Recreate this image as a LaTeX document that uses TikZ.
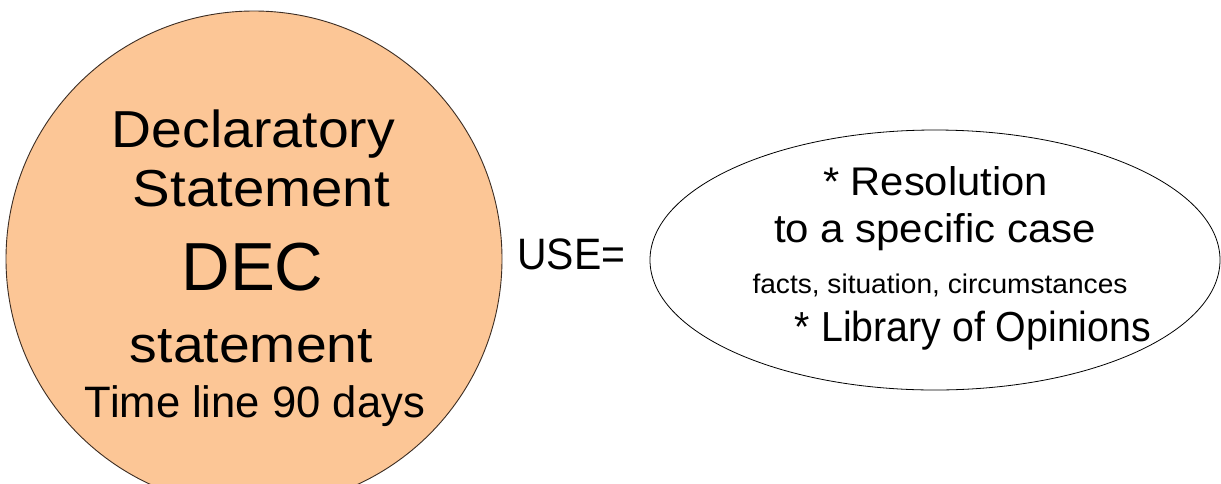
\documentclass[tikz,border=0pt]{standalone}
\usepackage{fontspec}
\setmainfont{Liberation Sans}
\usetikzlibrary{shapes.geometric}
\definecolor{peach}{RGB}{252,198,150}
\definecolor{rim}{RGB}{60,45,35}
\newcommand{\fitw}[3]{\resizebox{#1pt}{\height}{\fontsize{#2pt}{#2pt}\selectfont #3}}
\tikzset{
  txt/.style={anchor=base, inner sep=0pt, text=black},
  txtl/.style={anchor=base west, inner sep=0pt, text=black},
  bigcircle/.style={circle, draw=rim, fill=peach, line width=0.9pt, inner sep=0pt, minimum size=496pt},
  usebubble/.style={ellipse, draw=black, fill=white, line width=0.8pt, inner sep=0pt, minimum width=570pt, minimum height=260pt}
}
\begin{document}
\begin{tikzpicture}[x=1pt,y=-1pt]
\useasboundingbox[fill=white] (0,0) rectangle (1221,483);
\node[bigcircle] (dec) at (254,259) {};
\node[usebubble] (use) at (935,260) {};
\node[txt] (l1) at (253.5,147) {\fitw{283}{52}{Declaratory}};
\node[txt] (l2) at (261.5,206) {\fitw{257}{52}{Statement}};
\node[txt] (l3) at (252.5,290) {\fitw{142}{68}{DEC}};
\node[txt] (l4) at (251.5,362) {\fitw{243}{51}{statement}};
\node[txt] (l5) at (255,417) {\fitw{340}{44}{Time line 90 days}};
\node[txtl] (useq) at (517,269) {\fitw{108}{44}{USE=}};
\node[txt] (r1) at (935.5,195) {\fitw{225}{40}{* Resolution}};
\node[txt] (r2) at (935,242) {\fitw{322}{40}{to a specific case}};
\node[txt] (r3) at (940,293) {\fitw{375}{27}{facts, situation, circumstances}};
\node[txt] (r4) at (973,341) {\fitw{356}{42}{* Library of Opinions}};
\end{tikzpicture}
\end{document}
